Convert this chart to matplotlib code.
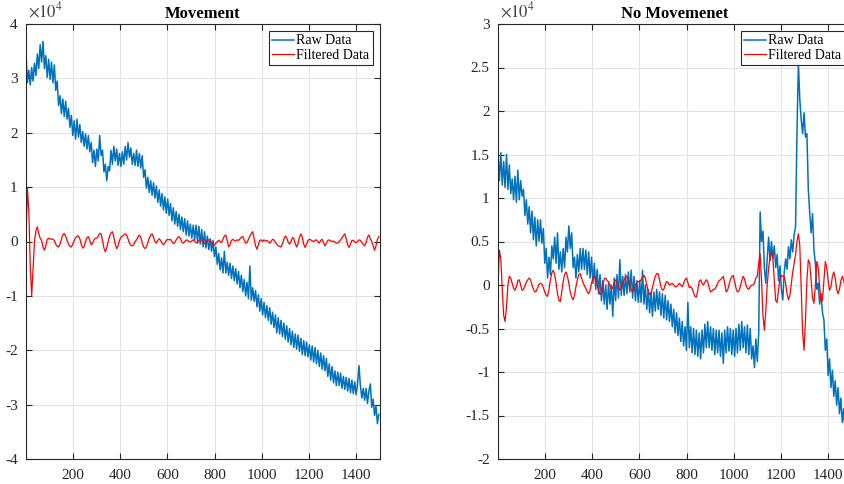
import numpy as np
import matplotlib
matplotlib.use('Agg')
import matplotlib.pyplot as plt
from matplotlib.ticker import FuncFormatter

plt.rcParams['font.family'] = ['Liberation Serif', 'DejaVu Serif']
plt.rcParams['mathtext.fontset'] = 'stix'
plt.rcParams['axes.unicode_minus'] = False

# sample index (every 6th sample of 1..1500), values in units of 1e4
sample_x = np.arange(1, 1501, 6)

move_raw = [
    3.45, 2.92, 3.15, 2.88, 3.20, 2.95, 3.28, 3.05, 3.45, 3.18,
    3.62, 3.30, 3.68, 3.18, 3.42, 3.02, 3.35, 2.98, 3.30, 2.92,
    3.25, 2.78, 2.95, 2.50, 2.68, 2.35, 2.62, 2.30, 2.58, 2.25,
    2.45, 2.10, 2.32, 1.95, 2.22, 1.88, 2.25, 1.92, 2.15, 1.82,
    2.02, 1.75, 1.98, 1.70, 1.95, 1.65, 1.82, 1.45, 1.68, 1.38,
    1.70, 1.48, 1.95, 1.58, 1.68, 1.28, 1.42, 1.12, 1.38, 1.30,
    1.68, 1.42, 1.75, 1.48, 1.70, 1.40, 1.62, 1.38, 1.65, 1.42,
    1.75, 1.50, 1.82, 1.55, 1.72, 1.42, 1.62, 1.40, 1.68, 1.38,
    1.62, 1.35, 1.58, 1.18, 1.32, 0.98, 1.18, 0.90, 1.12, 0.85,
    1.08, 0.80, 1.02, 0.72, 0.95, 0.65, 0.88, 0.58, 0.82, 0.52,
    0.78, 0.48, 0.70, 0.38, 0.62, 0.32, 0.55, 0.28, 0.50, 0.22,
    0.45, 0.18, 0.42, 0.12, 0.38, 0.10, 0.32, 0.06, 0.30, 0.03,
    0.30, 0.00, 0.28, -0.05, 0.22, -0.10, 0.18, -0.12, 0.10, -0.15,
    0.05, -0.18, 0.02, -0.28, -0.10, -0.42, -0.22, -0.52, -0.30, -0.58,
    -0.18, -0.58, -0.38, -0.62, -0.40, -0.68, -0.45, -0.72, -0.50, -0.78,
    -0.55, -0.85, -0.62, -0.92, -0.70, -1.00, -0.75, -1.05, -0.45, -1.08,
    -0.85, -1.10, -0.90, -1.20, -0.98, -1.28, -1.05, -1.35, -1.12, -1.40,
    -1.18, -1.45, -1.22, -1.52, -1.30, -1.58, -1.35, -1.68, -1.40, -1.70,
    -1.45, -1.75, -1.50, -1.80, -1.55, -1.85, -1.60, -1.90, -1.65, -1.95,
    -1.70, -1.98, -1.72, -2.02, -1.78, -2.08, -1.82, -2.10, -1.85, -2.12,
    -1.90, -2.18, -1.92, -2.22, -1.95, -2.25, -2.00, -2.30, -2.05, -2.35,
    -2.10, -2.38, -2.15, -2.48, -2.25, -2.55, -2.30, -2.60, -2.38, -2.65,
    -2.40, -2.65, -2.42, -2.70, -2.48, -2.72, -2.50, -2.75, -2.52, -2.78,
    -2.55, -2.80, -2.58, -2.82, -2.62, -2.28, -2.65, -2.88, -2.70, -2.92,
    -2.70, -2.98, -2.75, -2.62, -3.05, -2.90, -3.20, -3.02, -3.35, -3.18,
]

move_filt = [
    0.00, 0.98, 0.55, -0.45, -1.00, -0.50, 0.00, 0.20, 0.27, 0.15,
    0.06, 0.02, -0.10, -0.16, -0.08, 0.04, 0.06, 0.04, 0.05, 0.04,
    0.02, -0.05, -0.09, -0.10, -0.05, 0.04, 0.12, 0.15, 0.10, 0.02,
    -0.05, -0.09, -0.10, -0.05, 0.02, 0.07, 0.10, 0.10, 0.05, -0.05,
    -0.12, -0.10, 0.00, 0.07, 0.09, 0.02, -0.06, -0.03, 0.03, 0.06,
    0.06, 0.10, 0.15, 0.14, 0.02, -0.12, -0.19, -0.12, 0.00, 0.10,
    0.16, 0.18, 0.08, -0.05, -0.13, -0.08, 0.02, 0.08, 0.10, 0.12,
    0.14, 0.12, 0.05, -0.03, -0.07, -0.08, -0.06, 0.00, 0.03, 0.08,
    0.12, 0.08, -0.02, -0.10, -0.13, -0.10, -0.02, 0.06, 0.12, 0.14,
    0.08, 0.00, -0.03, 0.02, 0.05, 0.02, -0.03, -0.06, -0.03, 0.02,
    0.04, 0.03, 0.04, 0.00, -0.04, -0.02, 0.03, 0.07, 0.09, 0.05,
    -0.01, -0.03, 0.00, 0.03, 0.02, 0.00, -0.01, 0.01, 0.03, 0.01,
    -0.02, -0.03, 0.02, 0.04, 0.02, -0.02, -0.04, -0.01, 0.02, 0.03,
    0.02, -0.02, -0.06, -0.07, -0.03, 0.00, 0.02, 0.00, -0.02, 0.04,
    0.10, 0.12, 0.02, -0.10, -0.06, 0.02, 0.04, 0.02, 0.01, 0.03,
    0.02, 0.05, 0.08, 0.09, 0.03, -0.03, -0.02, 0.04, 0.10, 0.15,
    0.18, 0.06, -0.08, -0.14, -0.06, 0.02, 0.03, 0.00, 0.03, 0.01,
    0.02, 0.00, -0.03, 0.00, 0.04, 0.03, -0.02, -0.05, -0.08, -0.09,
    -0.10, -0.04, 0.04, 0.10, 0.07, -0.01, -0.05, 0.00, 0.07, 0.06,
    -0.04, -0.10, -0.04, 0.08, 0.14, 0.08, -0.05, -0.11, -0.05, 0.02,
    0.04, 0.03, 0.01, 0.00, 0.02, 0.03, 0.00, -0.03, 0.02, 0.04,
    -0.03, -0.08, -0.03, 0.02, 0.03, 0.01, 0.00, 0.01, -0.01, -0.03,
    -0.03, 0.00, 0.03, 0.06, 0.11, 0.14, 0.05, -0.06, -0.11, -0.05,
    0.02, 0.02, -0.01, -0.02, 0.00, 0.03, 0.02, -0.02, -0.05, -0.08,
    -0.02, 0.08, 0.12, 0.05, 0.00, -0.08, -0.16, -0.08, 0.04, 0.09,
]

still_raw = [
    1.50, 1.20, 1.52, 1.15, 1.42, 1.12, 1.50, 1.10, 1.38, 1.05,
    1.22, 0.98, 1.25, 0.95, 1.32, 0.98, 1.20, 1.02, 1.10, 0.80,
    0.98, 0.70, 0.90, 0.60, 0.85, 0.52, 0.78, 0.45, 0.75, 0.50,
    0.75, 0.48, 0.65, 0.25, 0.42, 0.08, 0.32, 0.12, 0.45, 0.30,
    0.55, 0.25, 0.60, 0.18, 0.38, 0.15, 0.42, 0.20, 0.55, 0.38,
    0.68, 0.42, 0.60, 0.20, 0.32, 0.08, 0.35, 0.15, 0.42, 0.18,
    0.42, 0.18, 0.40, 0.12, 0.38, 0.08, 0.32, 0.02, 0.25, -0.05,
    0.18, -0.10, 0.12, -0.18, 0.05, -0.22, 0.00, -0.28, 0.02, -0.22,
    0.00, -0.36, 0.08, -0.18, 0.12, -0.15, 0.29, -0.12, 0.10, -0.12,
    0.12, -0.10, 0.15, -0.08, 0.17, -0.15, 0.10, -0.18, 0.05, -0.20,
    0.05, -0.20, 0.17, -0.22, 0.00, -0.28, -0.05, -0.32, -0.08, -0.36,
    -0.08, -0.30, -0.05, -0.28, -0.08, -0.35, -0.10, -0.38, -0.12, -0.40,
    -0.18, -0.42, -0.22, -0.48, -0.28, -0.55, -0.32, -0.58, -0.38, -0.65,
    -0.42, -0.70, -0.48, -0.75, -0.20, -0.72, -0.48, -0.78, -0.50, -0.80,
    -0.52, -0.82, -0.55, -0.85, -0.52, -0.78, -0.45, -0.72, -0.42, -0.72,
    -0.48, -0.75, -0.50, -0.80, -0.52, -0.78, -0.52, -0.82, -0.55, -0.90,
    -0.52, -0.78, -0.48, -0.76, -0.50, -0.80, -0.52, -0.82, -0.50, -0.78,
    -0.45, -0.75, -0.42, -0.72, -0.48, -0.78, -0.46, -0.80, -0.50, -0.85,
    -0.70, -0.95, -0.62, -0.88, -0.55, 0.84, 0.50, 0.62, 0.20, 0.02,
    0.30, 0.55, 0.28, 0.50, 0.30, 0.45, 0.20, 0.35, 0.05, 0.22,
    -0.05, -0.17, 0.15, 0.30, 0.18, 0.44, 0.30, 0.52, 0.38, 0.58,
    0.67, 1.75, 2.55, 2.13, 1.90, 1.74, 1.98, 1.70, 1.74, 1.10,
    0.83, 0.60, 0.82, 0.40, 0.25, -0.05, 0.02, -0.22, -0.10, -0.32,
    -0.40, -0.75, -0.62, -1.04, -0.85, -1.18, -0.98, -1.28, -1.10, -1.38,
    -1.18, -1.48, -1.30, -1.58, -1.42, -1.70, -1.52, -1.75, -1.62, -1.80,
]

still_filt = [
    0.00, 0.40, 0.30, -0.05, -0.35, -0.42, -0.25, 0.00, 0.10, 0.08,
    0.02, -0.04, -0.06, -0.02, 0.05, 0.06, 0.00, -0.06, -0.05, -0.01,
    0.03, 0.06, 0.08, 0.06, 0.00, -0.05, -0.08, -0.07, -0.03, 0.01,
    0.02, 0.01, -0.03, -0.08, -0.12, -0.13, -0.05, 0.06, 0.14, 0.17,
    0.12, 0.02, -0.10, -0.18, -0.19, -0.08, 0.04, 0.12, 0.15, 0.10,
    0.02, -0.08, -0.14, -0.17, -0.12, -0.02, 0.06, 0.12, 0.13, 0.08,
    0.03, -0.01, -0.04, -0.08, -0.10, -0.06, 0.02, 0.08, 0.10, 0.06,
    0.00, -0.06, -0.11, -0.09, 0.00, 0.07, 0.08, 0.05, 0.04, 0.00,
    -0.05, -0.03, 0.02, 0.06, 0.04, -0.02, -0.06, -0.04, 0.02, 0.06,
    0.09, 0.10, 0.06, -0.01, -0.06, -0.08, -0.05, 0.00, 0.03, 0.04,
    0.04, 0.06, 0.09, 0.11, 0.08, 0.00, -0.07, -0.11, -0.10, -0.03,
    0.04, 0.10, 0.13, 0.13, 0.06, -0.02, -0.06, -0.05, 0.00, 0.04,
    0.03, 0.00, 0.01, 0.02, 0.00, -0.02, -0.02, 0.00, 0.02, 0.00,
    -0.02, 0.02, 0.06, 0.08, 0.03, -0.03, -0.02, -0.04, -0.09, -0.13,
    -0.14, -0.06, 0.04, 0.06, 0.02, 0.00, 0.03, 0.06, 0.04, -0.03,
    -0.08, -0.07, -0.05, -0.05, -0.02, 0.02, 0.05, 0.06, 0.08, 0.10,
    0.02, -0.08, -0.06, 0.00, 0.06, 0.10, 0.11, 0.04, -0.04, -0.08,
    -0.07, -0.02, 0.05, 0.10, 0.07, 0.00, -0.04, -0.05, -0.02, 0.00,
    0.00, 0.02, 0.08, 0.10, 0.25, 0.36, 0.05, -0.35, -0.52, -0.30,
    0.00, 0.20, 0.32, 0.38, 0.30, 0.05, -0.18, -0.20, -0.05, 0.08,
    0.11, 0.10, 0.10, 0.02, -0.10, -0.17, -0.12, 0.02, 0.15, 0.25,
    0.35, 0.50, 0.59, 0.45, -0.05, -0.55, -0.75, -0.40, 0.05, 0.29,
    0.25, 0.05, -0.15, -0.21, 0.00, 0.27, 0.20, -0.02, -0.18, -0.18,
    0.05, 0.27, 0.20, 0.05, -0.06, -0.02, 0.10, 0.15, 0.08, -0.05,
    -0.10, -0.05, 0.05, 0.10, 0.05, -0.03, -0.06, 0.00, 0.05, 0.05,
]

titles = ['Movement', 'No Movemenet']
y_ranges = [(-4, 4), (-2, 3)]
y_steps = [1, 0.5]
x_ticks = [200, 400, 600, 800, 1000, 1200, 1400]

blue = '#0072BD'
red = '#FF0000'
dark = '#262626'

fig = plt.figure(figsize=(8.44, 4.84), dpi=100)
ax_l = fig.add_axes([26 / 844, 25 / 484, 354 / 844, 435 / 484])
ax_r = fig.add_axes([498 / 844, 25 / 484, 354 / 844, 435 / 484])

fmt = FuncFormatter(lambda v, p: '%g' % v)

for ax, raw, filt, title, yr, ys in zip([ax_l, ax_r], [move_raw, still_raw],
                                        [move_filt, still_filt], titles,
                                        y_ranges, y_steps):
    ax.plot(sample_x, raw, color=blue, lw=1.1, label='Raw Data')
    ax.plot(sample_x, filt, color=red, lw=0.9, label='Filtered Data')
    ax.set_xlim(1, 1500)
    ax.set_ylim(*yr)
    ax.set_xticks(x_ticks)
    ax.set_yticks(np.arange(yr[0], yr[1] + ys / 2, ys))
    ax.yaxis.set_major_formatter(fmt)
    ax.grid(True, color='#e3e3e3', lw=0.8)
    ax.set_axisbelow(True)
    ax.tick_params(direction='in', top=True, right=True, length=4,
                   labelsize=11, colors=dark)
    ax.tick_params(axis='x', pad=7)
    ax.tick_params(axis='y', pad=6)
    for s in ax.spines.values():
        s.set_color(dark)
        s.set_linewidth(0.8)
    ax.set_title(title, fontsize=12, fontweight='bold', pad=4)
    ax.text(0.005, 1.008, r'$\times10^{4}$', transform=ax.transAxes,
            fontsize=12, color='#404040', ha='left', va='bottom')
    leg = ax.legend(loc='upper right', fontsize=10, handlelength=1.6,
                    handletextpad=0.15, borderpad=0.25, labelspacing=0.1,
                    borderaxespad=0.5, fancybox=False, framealpha=1)
    leg.get_frame().set_edgecolor(dark)
    leg.get_frame().set_linewidth(0.8)

fig.savefig('out.png', dpi=100)
